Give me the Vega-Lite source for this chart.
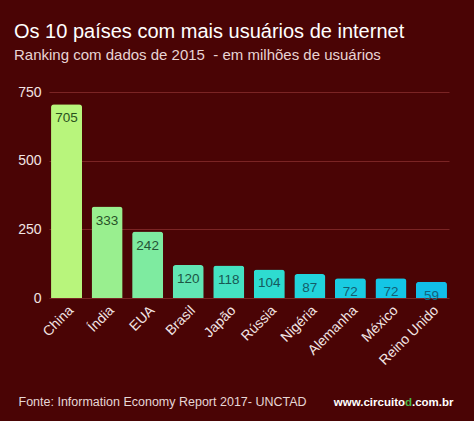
{
  "$schema": "https://vega.github.io/schema/vega-lite/v6.json",
  "width": 400,
  "height": 206,
  "autosize": "none",
  "padding": {"left": 49, "top": 92, "right": 25, "bottom": 123},
  "background": "#4a0405",
  "title": {
    "text": "Os 10 países com mais usuários de internet",
    "subtitle": "Ranking com dados de 2015\u00a0 - em milhões de usuários",
    "anchor": "start",
    "frame": "group",
    "dx": -35,
    "offset": 22,
    "font": "Liberation Sans",
    "fontSize": 20,
    "fontWeight": "normal",
    "color": "#ffffff",
    "subtitleFont": "Liberation Sans",
    "subtitleFontSize": 15,
    "subtitleColor": "#e8d4d4",
    "subtitlePadding": 6
  },
  "config": {
    "view": {"stroke": null},
    "font": "Liberation Sans"
  },
  "data": {
    "values": [
      {"pais": "China", "usuarios": 705},
      {"pais": "Índia", "usuarios": 333},
      {"pais": "EUA", "usuarios": 242},
      {"pais": "Brasil", "usuarios": 120},
      {"pais": "Japão", "usuarios": 118},
      {"pais": "Rússia", "usuarios": 104},
      {"pais": "Nigéria", "usuarios": 87},
      {"pais": "Alemanha", "usuarios": 72},
      {"pais": "México", "usuarios": 72},
      {"pais": "Reino Unido", "usuarios": 59}
    ]
  },
  "resolve": {"axis": {"x": "independent", "y": "independent"}, "scale": {"color": "independent"}},
  "layer": [
    {
      "mark": {"type": "bar", "cornerRadiusTopLeft": 3, "cornerRadiusTopRight": 3},
      "encoding": {
        "x": {
          "field": "pais", "type": "nominal", "sort": null,
          "scale": {"paddingInner": 0.235, "paddingOuter": 0.05},
          "axis": {
            "orient": "bottom",
            "labelAngle": -45,
            "labelFontSize": 14,
            "labelColor": "#f2e4e4",
            "labelPadding": 5,
            "ticks": false,
            "domain": false,
            "title": "Fonte: Information Economy Report 2017- UNCTAD",
            "titleFontSize": 12.5,
            "titleFontWeight": "normal",
            "titleColor": "#e6d6d6",
            "titleAngle": 0,
            "titleAlign": "left",
            "titleBaseline": "alphabetic",
            "titleAnchor": null,
            "titleX": -31,
            "titleY": 107
          }
        },
        "y": {
          "field": "usuarios", "type": "quantitative",
          "scale": {"domain": [0, 750], "nice": false},
          "axis": {
            "orient": "left",
            "values": [0, 250, 500, 750],
            "labelFontSize": 14,
            "labelColor": "#f2e4e4",
            "labelPadding": 8,
            "ticks": false,
            "domain": false,
            "gridColor": "#7a2424",
            "gridWidth": 1,
            "title": "www.circuito",
            "titleFontSize": 11.5,
            "titleFontWeight": "bold",
            "titleColor": "#ffffff",
            "titleAngle": 0,
            "titleAlign": "right",
            "titleBaseline": "alphabetic",
            "titleAnchor": null,
            "titleX": 355.5,
            "titleY": 313
          }
        },
        "color": {
          "field": "pais", "type": "nominal", "sort": null, "legend": null,
          "scale": {
            "domain": ["China", "Índia", "EUA", "Brasil", "Japão", "Rússia", "Nigéria", "Alemanha", "México", "Reino Unido"],
            "range": ["#b8f57c", "#99ef8f", "#7eeba0", "#62e6b4", "#45e2c2", "#2edcd0", "#22d4dc", "#1acce2", "#14c6e6", "#12bee8"]
          }
        }
      }
    },
    {
      "mark": {"type": "text", "baseline": "top", "dy": 7, "fontSize": 13.5},
      "encoding": {
        "x": {
          "field": "pais", "type": "nominal", "sort": null,
          "axis": {
            "orient": "top",
            "labels": false,
            "ticks": false,
            "domain": false,
            "title": ".com.br",
            "titleFontSize": 11.5,
            "titleFontWeight": "bold",
            "titleColor": "#ffffff",
            "titleAngle": 0,
            "titleAlign": "left",
            "titleBaseline": "alphabetic",
            "titleAnchor": null,
            "titleX": 362.5,
            "titleY": 313
          }
        },
        "y": {
          "field": "usuarios", "type": "quantitative",
          "scale": {"domain": [0, 750], "nice": false},
          "axis": {
            "orient": "right",
            "labels": false,
            "ticks": false,
            "domain": false,
            "grid": false,
            "title": "d",
            "titleFontSize": 11.5,
            "titleFontWeight": "bold",
            "titleColor": "#4cb848",
            "titleAngle": 0,
            "titleAlign": "left",
            "titleBaseline": "alphabetic",
            "titleAnchor": null,
            "titleX": -44.5,
            "titleY": 313
          }
        },
        "text": {"field": "usuarios", "type": "quantitative"},
        "color": {
          "field": "pais", "type": "nominal", "sort": null, "legend": null,
          "scale": {
            "domain": ["China", "Índia", "EUA", "Brasil", "Japão", "Rússia", "Nigéria", "Alemanha", "México", "Reino Unido"],
            "range": ["#2a521e", "#285228", "#245436", "#1c5644", "#175852", "#155a5e", "#145c68", "#135e70", "#126076", "#12647e"]
          }
        }
      }
    }
  ]
}
